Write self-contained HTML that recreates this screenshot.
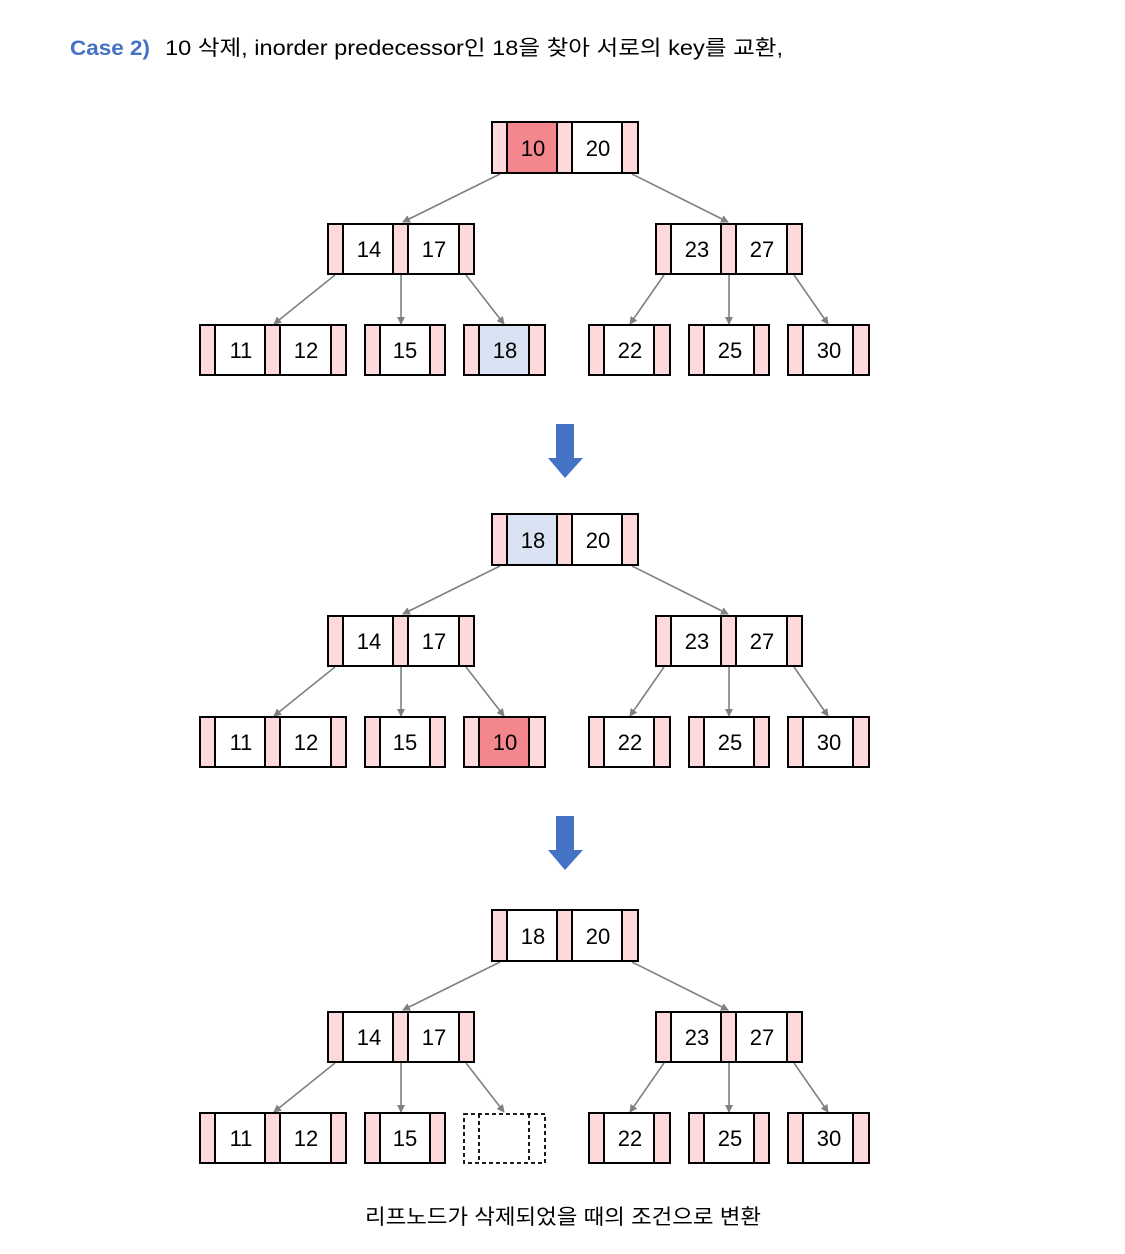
<!DOCTYPE html>
<html><head><meta charset="utf-8"><style>
html,body{margin:0;padding:0;background:#fff;width:1125px;height:1254px;overflow:hidden}
svg text{font-family:"Liberation Sans","Noto Sans CJK KR",sans-serif}
</style></head><body>
<svg width="1125" height="1254" viewBox="0 0 1125 1254" xmlns="http://www.w3.org/2000/svg">
<defs>
<marker id="ah" markerWidth="8" markerHeight="8" refX="7" refY="4" orient="auto" markerUnits="userSpaceOnUse"><path d="M0,0 L8,4 L0,8 z" fill="#808080"/></marker>
<g id="edges" stroke="#808080" stroke-width="1.6" fill="none">
<line x1="500" y1="174" x2="403" y2="222" marker-end="url(#ah)"/>
<line x1="632" y1="174" x2="728" y2="222" marker-end="url(#ah)"/>
<line x1="335" y1="275" x2="274" y2="324" marker-end="url(#ah)"/>
<line x1="401" y1="275" x2="401" y2="324" marker-end="url(#ah)"/>
<line x1="466" y1="275" x2="504" y2="324" marker-end="url(#ah)"/>
<line x1="664" y1="275" x2="630" y2="324" marker-end="url(#ah)"/>
<line x1="729" y1="275" x2="729" y2="324" marker-end="url(#ah)"/>
<line x1="794" y1="275" x2="828" y2="324" marker-end="url(#ah)"/>
</g>
<g id="common" stroke="#000" stroke-width="2">
<rect x="328" y="224" width="15" height="50" fill="#FDD9DC"/><rect x="343" y="224" width="50" height="50" fill="#fff"/><rect x="393" y="224" width="15" height="50" fill="#FDD9DC"/><rect x="408" y="224" width="51" height="50" fill="#fff"/><rect x="459" y="224" width="15" height="50" fill="#FDD9DC"/>
<rect x="656" y="224" width="15" height="50" fill="#FDD9DC"/><rect x="671" y="224" width="50" height="50" fill="#fff"/><rect x="721" y="224" width="15" height="50" fill="#FDD9DC"/><rect x="736" y="224" width="51" height="50" fill="#fff"/><rect x="787" y="224" width="15" height="50" fill="#FDD9DC"/>
<rect x="200" y="325" width="15" height="50" fill="#FDD9DC"/><rect x="215" y="325" width="50" height="50" fill="#fff"/><rect x="265" y="325" width="15" height="50" fill="#FDD9DC"/><rect x="280" y="325" width="51" height="50" fill="#fff"/><rect x="331" y="325" width="15" height="50" fill="#FDD9DC"/>
<rect x="365" y="325" width="15" height="50" fill="#FDD9DC"/><rect x="380" y="325" width="50" height="50" fill="#fff"/><rect x="430" y="325" width="15" height="50" fill="#FDD9DC"/>
<rect x="589" y="325" width="15" height="50" fill="#FDD9DC"/><rect x="604" y="325" width="50" height="50" fill="#fff"/><rect x="654" y="325" width="16" height="50" fill="#FDD9DC"/>
<rect x="689" y="325" width="15" height="50" fill="#FDD9DC"/><rect x="704" y="325" width="50" height="50" fill="#fff"/><rect x="754" y="325" width="15" height="50" fill="#FDD9DC"/>
<rect x="788" y="325" width="15" height="50" fill="#FDD9DC"/><rect x="803" y="325" width="50" height="50" fill="#fff"/><rect x="853" y="325" width="16" height="50" fill="#FDD9DC"/>
</g>
<g id="ctext" font-size="22" text-anchor="middle" fill="#000">
<text x="369" y="257">14</text><text x="434" y="257">17</text>
<text x="697" y="257">23</text><text x="762" y="257">27</text>
<text x="241" y="358">11</text><text x="306" y="358">12</text>
<text x="405" y="358">15</text><text x="630" y="358">22</text>
<text x="730" y="358">25</text><text x="829" y="358">30</text>
</g>
<g id="arrow"><path d="M556,424 H574 V458 H583 L565,478 L548,458 H556 Z" fill="#4472C4"/></g>
</defs>

<text x="70" y="55" font-size="21" font-weight="bold" fill="#4472C4" textLength="80" lengthAdjust="spacingAndGlyphs">Case 2)</text>
<text x="165" y="55" font-size="21" fill="#000" textLength="618" lengthAdjust="spacingAndGlyphs">10 삭제, inorder predecessor인 18을  찾아 서로의 key를 교환,</text>

<g>
<use href="#edges"/><use href="#common"/>
<g stroke="#000" stroke-width="2">
<rect x="492" y="122" width="15" height="51" fill="#FDD9DC"/><rect x="507" y="122" width="50" height="51" fill="#F4868E"/><rect x="557" y="122" width="15" height="51" fill="#FDD9DC"/><rect x="572" y="122" width="50" height="51" fill="#fff"/><rect x="622" y="122" width="16" height="51" fill="#FDD9DC"/>
<rect x="464" y="325" width="15" height="50" fill="#FDD9DC"/><rect x="479" y="325" width="50" height="50" fill="#DAE3F3"/><rect x="529" y="325" width="16" height="50" fill="#FDD9DC"/>
</g>
<use href="#ctext"/>
<g font-size="22" text-anchor="middle"><text x="533" y="156">10</text><text x="598" y="156">20</text><text x="505" y="358">18</text></g>
</g>

<use href="#arrow"/>

<g transform="translate(0,392)">
<use href="#edges"/><use href="#common"/>
<g stroke="#000" stroke-width="2">
<rect x="492" y="122" width="15" height="51" fill="#FDD9DC"/><rect x="507" y="122" width="50" height="51" fill="#DAE3F3"/><rect x="557" y="122" width="15" height="51" fill="#FDD9DC"/><rect x="572" y="122" width="50" height="51" fill="#fff"/><rect x="622" y="122" width="16" height="51" fill="#FDD9DC"/>
<rect x="464" y="325" width="15" height="50" fill="#FDD9DC"/><rect x="479" y="325" width="50" height="50" fill="#F4868E"/><rect x="529" y="325" width="16" height="50" fill="#FDD9DC"/>
</g>
<use href="#ctext"/>
<g font-size="22" text-anchor="middle"><text x="533" y="156">18</text><text x="598" y="156">20</text><text x="505" y="358">10</text></g>
</g>

<use href="#arrow" transform="translate(0,392)"/>

<g transform="translate(0,788)">
<use href="#edges"/><use href="#common"/>
<g stroke="#000" stroke-width="2">
<rect x="492" y="122" width="15" height="51" fill="#FDD9DC"/><rect x="507" y="122" width="50" height="51" fill="#fff"/><rect x="557" y="122" width="15" height="51" fill="#FDD9DC"/><rect x="572" y="122" width="50" height="51" fill="#fff"/><rect x="622" y="122" width="16" height="51" fill="#FDD9DC"/>
</g>
<g stroke="#000" stroke-width="1.8" stroke-dasharray="4,3" fill="#fff">
<rect x="464" y="326" width="81" height="49"/>
<line x1="479" y1="326" x2="479" y2="375"/><line x1="529" y1="326" x2="529" y2="375"/>
</g>
<use href="#ctext"/>
<g font-size="22" text-anchor="middle"><text x="533" y="156">18</text><text x="598" y="156">20</text></g>
</g>

<text x="365" y="1224" font-size="21" fill="#000" textLength="396" lengthAdjust="spacingAndGlyphs">리프노드가 삭제되었을 때의 조건으로 변환</text>
</svg>
</body></html>
